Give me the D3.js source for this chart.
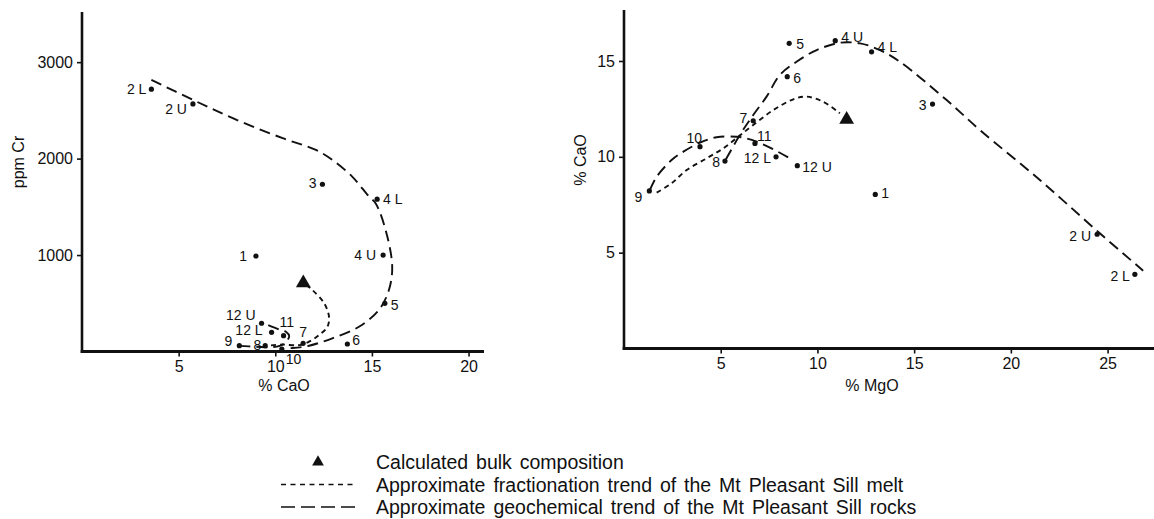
<!DOCTYPE html>
<html>
<head>
<meta charset="utf-8">
<script src="https://cdn.jsdelivr.net/npm/d3@7"></script>
<style>
  html, body { margin: 0; padding: 0; background: #fff; }
  svg { display: block; font-family: "Liberation Sans", Arial, Helvetica, sans-serif; }
</style>
</head>
<body>
<svg id="fig" width="1154" height="519"></svg>
<script>
// Sample identifiers (shared by both diagrams)
const samples = ["1", "2 L", "2 U", "3", "4 L", "4 U", "5", "6", "7", "8", "9", "10", "11", "12 L", "12 U"];

// Left diagram: % CaO against ppm Cr
const crCaO = [9.0, 3.59, 5.74, 12.44, 15.27, 15.58, 15.67, 13.73, 11.44, 9.48, 8.14, 10.34, 10.43, 9.81, 9.29];
const crPpm = [990, 2720, 2567, 1734, 1579, 1000, 500, 78, 85, 60, 60, 26, 164, 199, 293];

// Right diagram: % MgO against % CaO
const mgMgO = [12.99, 26.41, 24.46, 15.95, 12.8, 10.92, 8.54, 8.44, 6.68, 5.22, 1.31, 3.93, 6.77, 7.86, 8.96];
const mgCaO = [8.04, 3.87, 5.96, 12.75, 15.48, 16.06, 15.92, 14.18, 11.88, 9.78, 8.22, 10.53, 10.70, 10.0, 9.54];

// Calculated bulk composition
const bulkCr = { cao: 11.45, cr: 710 };
const bulkMg = { mgo: 11.51, cao: 11.95 };

// Trend lines, left diagram [CaO, Cr]
const crGeochemMain = [[3.59, 2816], [5.74, 2609], [7.8, 2419], [10.38, 2212], [12.1, 2090], [12.95, 1987],
  [13.98, 1813], [14.85, 1606], [15.19, 1537], [15.71, 1260], [16.05, 880], [15.88, 638], [15.36, 430],
  [14.33, 257], [12.95, 137], [11.75, 60], [10.9, 36], [10.5, 34]];
const crGeochemUpper = [[8.14, 58], [9.0, 50], [9.9, 46], [10.45, 80], [10.72, 160], [10.55, 205], [10.2, 228], [9.45, 288]];
const crFraction = [[11.6, 690], [11.92, 638], [12.53, 500], [12.78, 361], [12.7, 257], [12.27, 171],
  [11.75, 102], [11.24, 66], [10.38, 72], [9.78, 64]];

// Trend lines, right diagram [MgO, CaO]
const mgGeochemMain = [[5.27, 9.87], [5.99, 11.14], [6.68, 12.18], [7.37, 13.14], [8.06, 14.27], [8.92, 14.96],
  [9.96, 15.57], [11.16, 15.95], [12.2, 15.92], [13.23, 15.57], [14.26, 14.96], [16.68, 12.96], [18.4, 11.4],
  [21.5, 8.79], [24.6, 6.01], [26.84, 4.06]];
const mgGeochemLower = [[1.34, 8.27], [1.69, 8.96], [2.46, 9.83], [3.07, 10.27], [3.93, 10.74], [4.79, 11.02],
  [5.82, 11.05], [6.34, 10.96], [6.86, 10.79], [7.72, 10.39], [8.49, 9.97]];
const mgFraction = [[1.69, 8.13], [2.46, 8.62], [3.24, 9.31], [4.27, 9.92], [5.13, 10.44], [5.91, 11.05],
  [6.68, 11.66], [7.72, 12.44], [8.75, 13.0], [9.44, 13.14], [10.3, 12.87], [11.16, 12.27]];

// Axis ticks
const crXTicks = [5, 10, 15, 20];
const crYTicks = [1000, 2000, 3000];
const mgXTicks = [5, 10, 15, 20, 25];
const mgYTicks = [5, 10, 15];

// Legend entries
const legendItems = [
  { kind: "triangle", text: "Calculated bulk composition" },
  { kind: "short", text: "Approximate fractionation trend of the Mt Pleasant Sill melt" },
  { kind: "long", text: "Approximate geochemical trend of the Mt Pleasant Sill rocks" }
];

// ---- label placement around each point: anchor, dx, dy ----
const crLabelPos = {
  "1": ["end", -9, 0], "2 L": ["end", -5, 0], "2 U": ["end", -6, 5], "3": ["end", -6, -1],
  "4 L": ["start", 6, 0], "4 U": ["end", -7, 0], "5": ["start", 6, 2], "6": ["start", 5, -4],
  "7": ["middle", 0, -11], "8": ["end", -4, -1], "9": ["end", -7, -5], "10": ["start", 4, 10],
  "11": ["start", -4, -14], "12 L": ["end", -9, -2], "12 U": ["end", -6, -8]
};
const mgLabelPos = {
  "1": ["start", 6, -1], "2 L": ["end", -5, 2], "2 U": ["end", -6, 2], "3": ["end", -6, 1],
  "4 L": ["start", 6, -5], "4 U": ["start", 6, -4], "5": ["start", 7, 1], "6": ["start", 6, 1],
  "7": ["end", -6, -3], "8": ["end", -5, 1], "9": ["end", -7, 6], "10": ["end", 2, -9],
  "11": ["start", 2, -7], "12 L": ["end", -5, 1], "12 U": ["start", 5, 1]
};

const svg = d3.select("#fig");
const INK = "#111";

function drawPanel(cfg) {
  const g = svg.append("g");
  const { x, y } = cfg;
  const [x0, x1] = x.range();
  const [yb, yt] = y.range();

  // axes
  const xAxis = d3.axisBottom(x).tickValues(cfg.xTicks).tickSize(5).tickPadding(3).tickFormat(d3.format("d"));
  const yAxis = d3.axisLeft(y).tickValues(cfg.yTicks).tickSize(5).tickPadding(4).tickFormat(d3.format("d"));
  const gx = g.append("g").attr("transform", `translate(0,${yb})`).call(xAxis);
  const gy = g.append("g").attr("transform", `translate(${x0},0)`).call(yAxis);
  [gx, gy].forEach(a => {
    a.select(".domain").remove();
    a.selectAll(".tick line").attr("stroke", INK).attr("stroke-width", 1.6);
    a.selectAll(".tick text").attr("fill", INK).attr("font-size", 16).attr("font-family", null);
  });
  gx.selectAll(".tick text").attr("dy", "0.8em");
  g.append("line").attr("x1", x0).attr("x2", x0).attr("y1", yt).attr("y2", yb + 1.5)
    .attr("stroke", INK).attr("stroke-width", 2.6);
  g.append("line").attr("x1", x0 - 1.3).attr("x2", x1).attr("y1", yb).attr("y2", yb)
    .attr("stroke", INK).attr("stroke-width", 2.8);

  // axis titles
  g.append("text").attr("x", cfg.xTitlePos[0]).attr("y", cfg.xTitlePos[1])
    .attr("text-anchor", "middle").attr("font-size", 16).attr("fill", INK).text(cfg.xTitle);
  g.append("text").attr("transform", `translate(${cfg.yTitlePos[0]},${cfg.yTitlePos[1]}) rotate(-90)`)
    .attr("text-anchor", "middle").attr("font-size", 16).attr("fill", INK).text(cfg.yTitle);

  // trends
  const line = d3.line().x(d => x(d[0])).y(d => y(d[1])).curve(d3.curveCatmullRom.alpha(0.5));
  cfg.trends.forEach(t => {
    g.append("path").attr("d", line(t.pts)).attr("fill", "none").attr("stroke", INK)
      .attr("stroke-width", 1.9).attr("stroke-dasharray", t.dash);
  });

  // samples
  const pts = samples.map((s, i) => ({ s, vx: cfg.vx[i], vy: cfg.vy[i] }));
  g.selectAll("circle.pt").data(pts).join("circle").attr("class", "pt")
    .attr("cx", d => x(d.vx)).attr("cy", d => y(d.vy)).attr("r", 2.6).attr("fill", INK);
  g.selectAll("text.lbl").data(pts).join("text").attr("class", "lbl")
    .attr("x", d => x(d.vx) + cfg.lab[d.s][1]).attr("y", d => y(d.vy) + cfg.lab[d.s][2])
    .attr("dy", "0.36em").attr("text-anchor", d => cfg.lab[d.s][0])
    .attr("font-size", 14).attr("fill", INK).text(d => d.s);

  // bulk composition
  g.append("path").attr("d", d3.symbol(d3.symbolTriangle, 95)())
    .attr("transform", `translate(${x(cfg.bulk[0])},${y(cfg.bulk[1])})`).attr("fill", INK);
}

drawPanel({
  x: d3.scaleLinear([0, 20.8], [82, 484]),
  y: d3.scaleLinear([0, 3520], [351.5, 12]),
  xTicks: crXTicks, yTicks: crYTicks,
  xTitle: "% CaO", xTitlePos: [284, 391],
  yTitle: "ppm Cr", yTitlePos: [24, 162],
  vx: crCaO, vy: crPpm, lab: crLabelPos,
  bulk: [bulkCr.cao, bulkCr.cr],
  trends: [
    { pts: crGeochemMain, dash: "11,6" },
    { pts: crGeochemUpper, dash: "11,6" },
    { pts: crFraction, dash: "5,4" }
  ]
});

drawPanel({
  x: d3.scaleLinear([0, 27.4], [624, 1154]),
  y: d3.scaleLinear([0, 17.66], [348.5, 10]),
  xTicks: mgXTicks, yTicks: mgYTicks,
  xTitle: "% MgO", xTitlePos: [872, 391],
  yTitle: "% CaO", yTitlePos: [586, 160],
  vx: mgMgO, vy: mgCaO, lab: mgLabelPos,
  bulk: [bulkMg.mgo, bulkMg.cao],
  trends: [
    { pts: mgGeochemMain, dash: "11,6" },
    { pts: mgGeochemLower, dash: "11,6" },
    { pts: mgFraction, dash: "5,4" }
  ]
});

// legend
const lg = svg.append("g");
const rowY = d3.scalePoint().domain(legendItems.map(d => d.text)).range([462, 507]);
legendItems.forEach(item => {
  const cy = rowY(item.text);
  if (item.kind === "triangle") {
    lg.append("path").attr("d", d3.symbol(d3.symbolTriangle, 60)()).attr("transform", `translate(318,${cy})`).attr("fill", INK);
  } else {
    lg.append("line").attr("x1", 281).attr("x2", 356).attr("y1", cy).attr("y2", cy)
      .attr("stroke", INK).attr("stroke-width", 1.3)
      .attr("stroke-dasharray", item.kind === "short" ? "5,4.5" : "14,6");
  }
  lg.append("text").attr("x", 376).attr("y", cy).attr("dy", "0.36em")
    .attr("font-size", 19.5).attr("word-spacing", 2.5).attr("fill", INK).text(item.text);
});
</script>
</body>
</html>
